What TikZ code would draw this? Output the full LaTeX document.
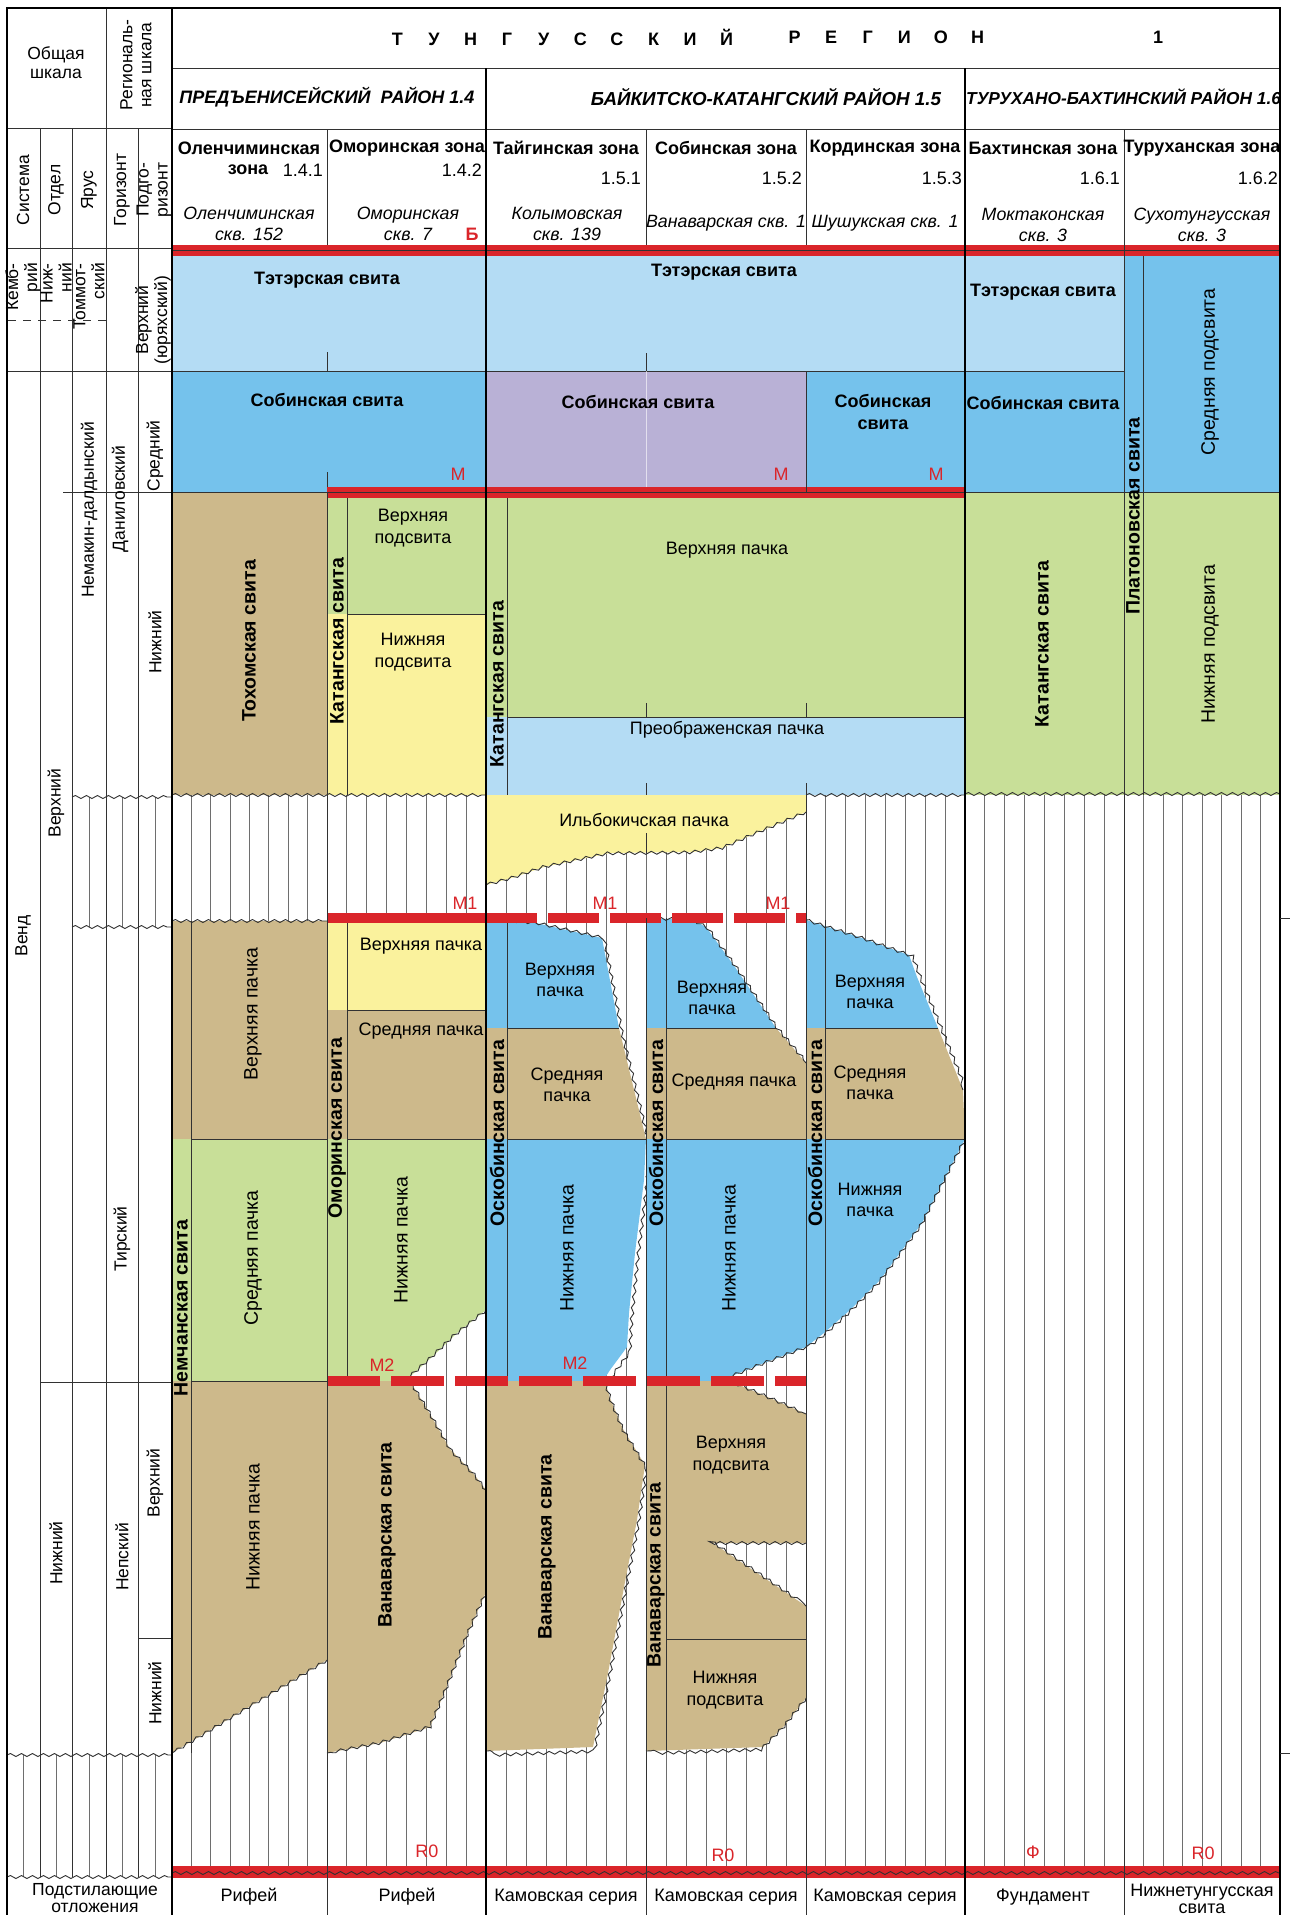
\documentclass[tikz,border=0pt]{standalone}
\usepackage{fontspec}
\setmainfont{Liberation Sans}
\usetikzlibrary{decorations.pathmorphing}
\definecolor{tanC}{RGB}{205,185,139}
\definecolor{grnC}{RGB}{200,223,152}
\definecolor{ylwC}{RGB}{250,242,157}
\definecolor{lbC}{RGB}{180,220,244}
\definecolor{blC}{RGB}{117,194,236}
\definecolor{lavC}{RGB}{185,177,214}
\definecolor{redC}{RGB}{218,37,42}
\definecolor{lnC}{RGB}{50,50,50}
\definecolor{htC}{RGB}{110,110,110}
\newcommand\hatchcol[4]{\foreach \hi in {0,...,8}{\draw[hatch] ({#1+(#2-#1)*\hi/8},#3) -- ({#1+(#2-#1)*\hi/8},#4);}}
\tikzset{
  hatch/.style={draw=htC, line width=0.8pt},
  bd/.style={draw=lnC, line width=0.9pt},
  wv/.style={draw=lnC, line width=0.9pt, decorate, decoration={snake, amplitude=1.5pt, segment length=11pt}},
  colln/.style={draw=lnC, line width=1pt},
  colbold/.style={draw=black, line width=2pt},
  lb/.style={inner sep=0pt, align=center, font=\fontsize{18}{21.5}\selectfont},
  vlb/.style={inner sep=0pt, align=center, rotate=90, font=\fontsize{19.5}{22}\selectfont},
  vlbb/.style={inner sep=0pt, align=center, rotate=90, font=\fontsize{19.5}{22}\selectfont\bfseries},
  lbs/.style={inner sep=0pt, align=center, font=\fontsize{17.5}{19}\selectfont},
  lbb/.style={inner sep=0pt, align=center, font=\fontsize{18}{21.5}\selectfont\bfseries},
  lbi/.style={inner sep=0pt, align=center, font=\fontsize{17.8}{21}\selectfont\itshape},
  lbhd/.style={inner sep=0pt, align=center, font=\fontsize{18}{20}\selectfont\bfseries\itshape},
  rl/.style={inner sep=0pt, font=\fontsize{18}{20}\selectfont, text=redC},
}
\newcommand\LS[1]{\makebox[36.6pt]{#1}}
\begin{document}
\begin{tikzpicture}[x=1pt,y=-1pt]
\useasboundingbox (0,0) rectangle (1290,1915);
\fill[white] (0,0) rectangle (1290,1915);

% ---------- hatching (chart) ----------
\hatchcol{172}{327}{795}{1872}
\hatchcol{327}{486}{795}{1872}
\hatchcol{486}{646}{795}{1872}
\hatchcol{646}{806}{795}{1872}
\hatchcol{806}{965}{795}{1872}
\hatchcol{965}{1124}{795}{1872}
\hatchcol{1124}{1280}{795}{1872}
% hatching (left scale)
\foreach \hx in {89,122,155}{\draw[hatch] (\hx,797) -- (\hx,927);}
\foreach \hx in {23,56,89,122,155}{\draw[hatch] (\hx,1755) -- (\hx,1877);}

% ---------- upper fills ----------
\fill[lbC] (172,256) rectangle (965,371);
\fill[blC] (172,371) rectangle (486,492);
\fill[lavC] (486,371) rectangle (806,492);
\fill[blC] (806,371) rectangle (965,492);
\fill[tanC] (172,492) rectangle (327,795);
\fill[grnC] (327,492) rectangle (486,614);
\fill[ylwC] (327,614) rectangle (486,795);
\fill[grnC] (486,492) rectangle (965,717);
\fill[lbC] (486,717) rectangle (965,795);
\fill[lbC] (965,256) rectangle (1124,371);
\fill[blC] (965,371) rectangle (1124,492);
\fill[grnC] (965,492) rectangle (1124,795);
\fill[blC] (1124,256) rectangle (1280,492);
\fill[grnC] (1124,492) rectangle (1280,795);

\draw[bd] (172,371) -- (1124,371);
\draw[bd] (172,492) -- (1280,492);
\draw[bd] (347,614) -- (486,614);
\draw[bd] (507,717) -- (965,717);
\draw[bd] (486,795) -- (806,795);
\draw[bd] (347,492) -- (347,795);
\draw[bd] (507,492) -- (507,795);
\draw[bd] (1143,256) -- (1143,795);
\draw[draw=white, line width=0.8pt, opacity=0.6] (646,371) -- (646,492);
\draw[wv] (172,795) -- (486,795);
\draw[wv] (806,795) -- (965,795);
\draw[wv] (965,794) -- (1280,794);
% ticks
\draw[colln] (327,352) -- (327,371);
\draw[colln] (327,472) -- (327,492);
\draw[colln] (646,353) -- (646,371);
\draw[colln] (646,703) -- (646,717);
\draw[colln] (806,703) -- (806,717);
\draw[colln] (646,783) -- (646,795);
\draw[colln] (806,783) -- (806,795);

% ---------- column 1 ----------
\fill[tanC] (172,921) rectangle (327,1139);
\fill[grnC] (172,1139) rectangle (327,1381);
\fill[tanC] (172,1381) -- (327,1381) -- (327,1660) -- (172,1753) -- cycle;
\draw[wv] (172,921) -- (327,921);
\draw[bd] (191,1139) -- (327,1139);
\draw[bd] (191,1381) -- (327,1381);
\draw[wv] (327,1660) -- (172,1753);
\draw[bd] (191,921) -- (191,1753);

% ---------- column 2 ----------
\fill[ylwC] (327,918) rectangle (486,1010);
\fill[tanC] (327,1010) rectangle (486,1139);
\fill[grnC] (327,1139) -- (486,1139) -- (486,1310) -- (457,1333) -- (432,1357) -- (405,1381) -- (327,1381) -- cycle;
\draw[bd] (347,1010) -- (486,1010);
\draw[bd] (347,1139) -- (486,1139);
\draw[wv] (486,1310) -- (457,1333) -- (432,1357) -- (405,1381);
\draw[bd] (347,918) -- (347,1381);
\fill[tanC] (327,1381) -- (410,1381) -- (430,1414) -- (450,1449) -- (473,1473) -- (486,1490) -- (486,1592) -- (467,1635) -- (447,1686) -- (430,1727) -- (380,1743) -- (327,1753) -- cycle;
\draw[wv] (410,1381) -- (430,1414) -- (450,1449) -- (473,1473) -- (486,1490);
\draw[wv] (486,1592) -- (467,1635) -- (447,1686) -- (430,1727) -- (380,1743) -- (327,1753);

% ---------- Ильбокичская ----------
\fill[ylwC] (486,795) -- (806,795) -- (806,812) -- (756,833) -- (722,848) -- (693,852) -- (610,853) -- (544,867) -- (515,877) -- (486,885) -- cycle;
\draw[wv] (806,812) -- (756,833) -- (722,848) -- (693,852) -- (610,853) -- (544,867) -- (515,877) -- (486,885);
\draw[colln] (646,833) -- (646,853);

% ---------- column 3 ----------
\fill[blC] (486,918) -- (536,923) -- (602,938) -- (619,1028) -- (486,1028) -- cycle;
\fill[tanC] (486,1028) -- (619,1028) -- (646,1139) -- (486,1139) -- cycle;
\fill[blC] (486,1139) -- (646,1139) -- (644,1180) -- (635,1253) -- (629,1313) -- (627,1347) -- (610,1370) -- (603,1381) -- (486,1381) -- cycle;
\draw[wv] (486,918) -- (536,923) -- (602,938) -- (619,1028) -- (646,1139) -- (644,1180) -- (635,1253) -- (629,1313) -- (627,1347) -- (610,1370) -- (603,1381);
\draw[bd] (507,1028) -- (619,1028);
\draw[bd] (507,1139) -- (646,1139);
\draw[bd] (507,918) -- (507,1381);
\fill[tanC] (486,1381) -- (605,1381) -- (610,1398) -- (623,1429) -- (645,1465) -- (637,1520) -- (625,1582) -- (608,1673) -- (593,1747) -- (486,1751) -- cycle;
\draw[wv] (605,1381) -- (610,1398) -- (623,1429) -- (645,1465) -- (637,1520) -- (625,1582) -- (608,1673) -- (593,1747) -- (486,1751);

% ---------- column 4 ----------
\fill[blC] (646,918) -- (693,920) -- (706,927) -- (735,967) -- (776,1028) -- (646,1028) -- cycle;
\fill[tanC] (646,1028) -- (776,1028) -- (806,1063) -- (806,1139) -- (646,1139) -- cycle;
\fill[blC] (646,1139) -- (806,1139) -- (806,1347) -- (764,1363) -- (729,1377) -- (720,1381) -- (646,1381) -- cycle;
\draw[wv] (646,918) -- (693,920) -- (706,927) -- (735,967) -- (776,1028) -- (806,1063);
\draw[wv] (806,1347) -- (764,1363) -- (729,1377) -- (720,1381);
\draw[bd] (666,1028) -- (776,1028);
\draw[bd] (666,1139) -- (806,1139);
\draw[bd] (666,918) -- (666,1381);
\fill[tanC] (646,1381) -- (730,1381) -- (770,1398) -- (806,1414) -- (806,1543) -- (713,1543) -- (760,1575) -- (806,1606) -- (806,1698) -- (785,1725) -- (763,1747) -- (646,1751) -- cycle;
\draw[wv] (730,1381) -- (770,1398) -- (806,1414);
\draw[wv] (806,1543) -- (713,1543) -- (760,1575) -- (806,1606);
\draw[wv] (806,1698) -- (785,1725) -- (763,1747) -- (646,1751);
\draw[bd] (666,1639) -- (806,1639);
\draw[bd] (666,1381) -- (666,1751);

% ---------- column 5 ----------
\fill[blC] (806,920) -- (859,937) -- (909,955) -- (917,977) -- (938,1028) -- (806,1028) -- cycle;
\fill[tanC] (806,1028) -- (938,1028) -- (955,1070) -- (963,1090) -- (965,1139) -- (806,1139) -- cycle;
\fill[blC] (806,1139) -- (965,1139) -- (944,1180) -- (922,1223) -- (880,1280) -- (850,1310) -- (824,1333) -- (806,1347) -- cycle;
\draw[wv] (806,920) -- (859,937) -- (909,955) -- (917,977) -- (938,1028) -- (955,1070) -- (963,1090);
\draw[wv] (965,1139) -- (944,1180) -- (922,1223) -- (880,1280) -- (850,1310) -- (824,1333) -- (806,1347);
\draw[bd] (825,1028) -- (938,1028);
\draw[bd] (825,1139) -- (965,1139);
\draw[bd] (825,920) -- (825,1335);

% ---------- red lines ----------
\fill[redC] (172,245) rectangle (1280,256);
\draw[lnC, line width=1pt] (172,250.5) -- (1280,250.5);
\fill[redC] (327,487) rectangle (965,498);
\draw[lnC, line width=1pt] (327,492) -- (965,492);
\fill[redC] (327,913) rectangle (486,923);
\draw[redC, line width=10pt, dash pattern=on 51pt off 11pt] (486,918) -- (806,918);
\draw[redC, line width=10pt, dash pattern=on 53pt off 11pt] (327,1381) -- (806,1381);
\fill[redC] (172,1866) rectangle (1280,1878);
\draw[wv] (172,1873) -- (1280,1873);

% ---------- left scale lines ----------
\draw[colln] (7,128) -- (172,128);
\draw[colln] (7,248) -- (172,248);
\draw[colln] (7,371) -- (172,371);
\draw[colln] (63,492) -- (172,492);
\draw[colln] (40,1382) -- (172,1382);
\draw[colln] (138,1638) -- (172,1638);
\draw[colln] (40,128) -- (40,1877);
\draw[colln] (72,128) -- (72,1877);
\draw[colln] (106,8) -- (106,1877);
\draw[colln] (138,128) -- (138,1877);
\draw[wv] (72,797) -- (172,797);
\draw[wv] (72,927) -- (172,927);
\draw[wv] (7,1755) -- (172,1755);
\draw[wv] (7,1877) -- (172,1877);
\draw[lnC, line width=0.9pt, dash pattern=on 8pt off 7pt] (8,320) -- (106,320);

% ---------- chart column lines ----------
\draw[colln] (172,68) -- (1280,68);
\draw[colln] (172,129) -- (1280,129);
\draw[colln] (327,129) -- (327,245);
\draw[colln] (646,129) -- (646,245);
\draw[colln] (806,129) -- (806,245);
\draw[colln] (1124,129) -- (1124,1915);
\draw[colln] (327,492) -- (327,1915);
\draw[colln] (646,918) -- (646,1915);
\draw[colln] (806,371) -- (806,492);
\draw[colln] (806,795) -- (806,1915);
\draw[colbold] (486,68) -- (486,1915);
\draw[colbold] (965,68) -- (965,1915);
\draw[colbold] (172,8) -- (172,1915);
\draw[black, line width=2.4pt] (7,1915) -- (7,8) -- (1280,8) -- (1280,1915);
\draw[colln] (1280,918) -- (1290,918);
\draw[colln] (1280,1753) -- (1290,1753);

% ---------- header texts ----------
\node[lbb] (hreg) at (562,37) {\LS{Т}\LS{У}\LS{Н}\LS{Г}\LS{У}\LS{С}\LS{С}\LS{К}\LS{И}\LS{Й}};
\node[lbb] (hreg2) at (886,37) {\LS{Р}\LS{Е}\LS{Г}\LS{И}\LS{О}\LS{Н}};
\node[lbb] (hone) at (1158,37) {1};
\node[lbhd] (d14) at (327,97) {ПРЕДЪЕНИСЕЙСКИЙ\ \ РАЙОН 1.4};
\node[lbhd, font=\fontsize{18.8}{20}\selectfont\bfseries\itshape] (d15) at (766,97) {БАЙКИТСКО-КАТАНГСКИЙ РАЙОН 1.5};
\node[lbhd, anchor=west, font=\fontsize{17.3}{20}\selectfont\bfseries\itshape] (d16) at (966,97) {ТУРУХАНО-БАХТИНСКИЙ РАЙОН 1.6};

\node[lbb] (z141) at (249,148) {Оленчиминская};
\node[lbb] (z141b) at (248,170) {зона};
\node[lb, anchor=east] (z141n) at (323,170) {1.4.1};
\node[lbb] (z142) at (407,148) {Оморинская зона};
\node[lb, anchor=east] (z142n) at (482,170) {1.4.2};
\node[lbb] (z151) at (566,148) {Тайгинская зона};
\node[lb, anchor=east] (z151n) at (641,178) {1.5.1};
\node[lbb] (z152) at (726,148) {Собинская зона};
\node[lb, anchor=east] (z152n) at (802,178) {1.5.2};
\node[lbb] (z153) at (885,148) {Кординская зона};
\node[lb, anchor=east] (z153n) at (962,178) {1.5.3};
\node[lbb] (z161) at (1043,148) {Бахтинская зона};
\node[lb, anchor=east] (z161n) at (1120,178) {1.6.1};
\node[lbb] (z162) at (1202,148) {Туруханская зона};
\node[lb, anchor=east] (z162n) at (1278,178) {1.6.2};

\node[lbi] (w1) at (249,224) {Оленчиминская\\скв. 152};
\node[lbi] (w2) at (408,224) {Оморинская\\скв. 7};
\node[rl, font=\fontsize{18}{20}\selectfont\bfseries] (wb) at (472,234) {Б};
\node[lbi] (w3) at (567,224) {Колымовская\\скв. 139};
\node[lbi] (w4) at (726,223) {Ванаварская скв. 1};
\node[lbi] (w5) at (885,223) {Шушукская скв. 1};
\node[lbi] (w6) at (1043,225) {Моктаконская\\скв. 3};
\node[lbi] (w7) at (1202,225) {Сухотунгусская\\скв. 3};

% ---------- left scale texts ----------
\node[lbs] (gs) at (56,63) {Общая\\шкала};
\node[lbs, rotate=90] (rs) at (136,65) {Региональ-\\ная шкала};
\node[lbs, rotate=90] (s1) at (23,190) {Система};
\node[lbs, rotate=90] (s2) at (56,190) {Отдел};
\node[lbs, rotate=90] (s3) at (89,190) {Ярус};
\node[lbs, rotate=90] (s4) at (122,190) {Горизонт};
\node[lbs, rotate=90] (s5) at (154,190) {Подго-\\ризонт};
\node[lbs, rotate=90, anchor=east, align=right] (k1) at (23,263) {Кемб-\\рий};
\node[lbs, rotate=90, anchor=east, align=right] (k2) at (56,263) {Ниж-\\ний};
\node[lbs, rotate=90, anchor=east, align=right] (k3) at (89,263) {Томмот-\\ский};
\node[lbs, rotate=90] (k4) at (153,320) {Верхний\\(юряхский)};
\node[lbs, rotate=90] (a1) at (89,510) {Немакин-далдынский};
\node[lbs, rotate=90] (a2) at (120,499) {Даниловский};
\node[lbs, rotate=90] (a3) at (155,456) {Средний};
\node[lbs, rotate=90] (a4) at (155,642) {Нижний};
\node[lbs, rotate=90] (a5) at (56,803) {Верхний};
\node[lbs, rotate=90] (a6) at (23,936) {Венд};
\node[lbs, rotate=90] (a7) at (122,1239) {Тирский};
\node[lbs, rotate=90] (a8) at (56,1553) {Нижний};
\node[lbs, rotate=90] (a9) at (122,1557) {Непский};
\node[lbs, rotate=90] (a10) at (155,1483) {Верхний};
\node[lbs, rotate=90] (a11) at (155,1693) {Нижний};
\node[lbs, font=\fontsize{17.5}{17}\selectfont] (a12) at (95,1898) {Подстилающие\\отложения};

% ---------- chart texts ----------
\node[lbb] (t1) at (327,280) {Тэтэрская свита};
\node[lbb] (t2) at (724,272) {Тэтэрская свита};
\node[lbb] (t3) at (1043,292) {Тэтэрская свита};
\node[lbb] (s1a) at (327,400) {Собинская свита};
\node[lbb] (s2a) at (638,402) {Собинская свита};
\node[lbb] (s3a) at (883,412) {Собинская\\свита};
\node[lbb] (s4a) at (1043,403) {Собинская свита};
\node[rl] (m1) at (458,474) {М};
\node[rl] (m2) at (781,474) {М};
\node[rl] (m3) at (936,474) {М};
\node[vlb] (tp1) at (1210,372) {Средняя подсвита};
\node[vlb] (tp2) at (1210,644) {Нижняя подсвита};
\node[vlbb] (tp3) at (1042,644) {Катангская свита};
\node[vlbb] (tp4) at (1133,516) {Платоновская свита};
\node[lb] (o1) at (413,528) {Верхняя\\подсвита};
\node[lb] (o2) at (413,652) {Нижняя\\подсвита};
\node[vlbb] (o3) at (249,641) {Тохомская свита};
\node[vlbb] (o4) at (337,641) {Катангская свита};
\node[vlbb] (o5) at (497,684) {Катангская свита};
\node[lb] (o6) at (727,550) {Верхняя пачка};
\node[lb] (o7) at (727,730) {Преображенская пачка};
\node[lb] (o8) at (644,820) {Ильбокичская пачка};
\node[rl] (m11) at (465,903) {М1};
\node[rl] (m12) at (605,903) {М1};
\node[rl] (m13) at (778,903) {М1};
\node[lb] (p1) at (421,946) {Верхняя пачка};
\node[lb] (p2) at (421,1031) {Средняя пачка};
\node[vlb] (p3) at (401,1240) {Нижняя пачка};
\node[vlbb] (p4) at (337,1128) {Оморинская свита};
\node[vlb] (n1) at (253,1014) {Верхняя пачка};
\node[vlb] (n2) at (253,1258) {Средняя пачка};
\node[vlb] (n3) at (253,1527) {Нижняя пачка};
\node[vlbb] (n4) at (181,1308) {Немчанская свита};
\node[rl] (m21) at (382,1365) {М2};
\node[rl] (m22) at (575,1363) {М2};
\node[vlbb] (v1) at (387,1535) {Ванаварская свита};
\node[vlbb] (v2) at (547,1547) {Ванаварская свита};
\node[vlbb] (q1) at (497,1133) {Оскобинская свита};
\node[lb] (q2) at (560,980) {Верхняя\\пачка};
\node[lb] (q3) at (567,1085) {Средняя\\пачка};
\node[vlb] (q4) at (567,1248) {Нижняя пачка};
\node[vlbb] (r1) at (656,1133) {Оскобинская свита};
\node[lb] (r2) at (712,998) {Верхняя\\пачка};
\node[lb] (r3) at (734,1082) {Средняя пачка};
\node[vlb] (r4) at (729,1248) {Нижняя пачка};
\node[lb] (r5) at (731,1455) {Верхняя\\подсвита};
\node[lb] (r6) at (725,1690) {Нижняя\\подсвита};
\node[vlbb] (r7) at (656,1575) {Ванаварская свита};
\node[vlbb] (u1) at (815,1133) {Оскобинская свита};
\node[lb] (u2) at (870,992) {Верхняя\\пачка};
\node[lb] (u3) at (870,1083) {Средняя\\пачка};
\node[lb] (u4) at (870,1200) {Нижняя\\пачка};
\node[rl] (r01) at (427,1851) {R0};
\node[rl] (r02) at (723,1855) {R0};
\node[rl] (r03) at (1033,1852) {Ф};
\node[rl] (r04) at (1203,1853) {R0};
\node[lb] (b1) at (249,1897) {Рифей};
\node[lb] (b2) at (407,1897) {Рифей};
\node[lb] (b3) at (566,1897) {Камовская серия};
\node[lb] (b4) at (726,1897) {Камовская серия};
\node[lb] (b5) at (885,1897) {Камовская серия};
\node[lb] (b6) at (1043,1897) {Фундамент};
\node[lb, font=\fontsize{18}{17}\selectfont] (b7) at (1202,1899) {Нижнетунгусская\\свита};
\end{tikzpicture}
\end{document}
